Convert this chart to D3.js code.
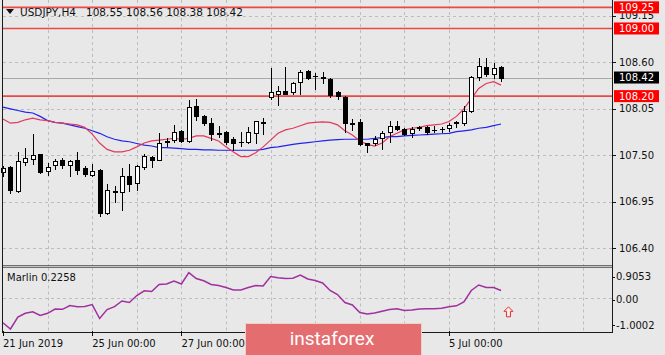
<!DOCTYPE html>
<html><head><meta charset="utf-8">
<script src="https://cdn.jsdelivr.net/npm/d3@7"></script>
<style>html,body{margin:0;padding:0;background:#e8e8e8;overflow:hidden}svg{display:block}text{font-family:"DejaVu Sans",sans-serif}</style>
</head><body><svg id="c" width="665" height="355"></svg>
<script>
// ---------- DATA ----------
const symbol = "USDJPY,H4";
const opens  = [107.30,107.36,107.08,107.42,107.46,107.51,107.31,107.38,107.44,107.39,
                107.44,107.35,107.27,107.33,106.82,107.08,107.07,107.25,107.17,107.36,
                107.48,107.45,107.66,107.68,107.79,107.67,108.08,107.96,107.88,107.76,
                107.78,107.69,107.66,107.66,107.76,107.89,108.19,108.23,108.26,108.25,
                108.37,108.50,108.44,108.43,108.40,108.25,108.19,107.88,107.89,107.64,
                107.64,107.70,107.77,107.85,107.81,107.76,107.825,107.83,107.80,107.81,
                107.82,107.885,107.88,108.02,108.43,108.54,108.46,108.55];
const highs  = [107.37,107.37,107.54,107.59,107.75,107.52,107.41,107.46,107.47,107.44,
                107.54,107.37,107.40,107.34,107.16,107.14,107.35,107.40,107.39,107.52,
                107.49,107.76,107.70,107.86,107.80,108.15,108.17,107.98,107.94,107.85,
                107.785,107.72,107.77,107.84,107.91,107.94,108.53,108.32,108.55,108.37,
                108.51,108.51,108.47,108.48,108.41,108.255,108.20,107.93,107.93,107.645,
                107.73,107.79,107.90,107.90,107.82,107.83,107.85,107.85,107.85,107.83,
                107.88,107.91,108.08,108.435,108.65,108.65,108.59,108.56];
const lows   = [107.25,107.05,107.07,107.39,107.40,107.29,107.27,107.34,107.35,107.25,
                107.28,107.26,107.25,106.78,106.81,106.95,106.85,107.08,107.09,107.34,
                107.36,107.44,107.61,107.66,107.66,107.66,107.92,107.86,107.68,107.72,
                107.63,107.56,107.61,107.64,107.64,107.75,108.17,108.09,108.22,108.23,
                108.23,108.40,108.29,108.35,108.19,108.17,107.78,107.80,107.62,107.54,
                107.62,107.58,107.66,107.80,107.74,107.72,107.80,107.75,107.78,107.77,
                107.79,107.83,107.86,108.01,108.39,108.44,108.41,108.38];
const closes = [107.35,107.09,107.43,107.47,107.50,107.30,107.36,107.43,107.38,107.43,
                107.33,107.28,107.31,106.82,107.09,107.07,107.25,107.16,107.37,107.49,
                107.44,107.65,107.665,107.77,107.67,108.07,107.96,107.88,107.75,107.755,
                107.66,107.64,107.655,107.77,107.90,107.885,108.25,108.26,108.23,108.36,
                108.49,108.41,108.435,108.41,108.21,108.20,107.88,107.875,107.63,107.62,
                107.69,107.76,107.85,107.81,107.75,107.81,107.83,107.78,107.795,107.815,
                107.86,107.89,108.02,108.43,108.56,108.46,108.53,108.42];
const maFast = [107.93,107.88,107.89,107.92,107.94,107.92,107.91,107.89,107.88,107.87,
                107.86,107.83,107.75,107.645,107.57,107.54,107.54,107.56,107.60,107.645,
                107.67,107.68,107.69,107.70,107.69,107.70,107.73,107.73,107.70,107.67,
                107.60,107.54,107.485,107.485,107.53,107.60,107.68,107.76,107.80,107.82,
                107.85,107.88,107.89,107.895,107.89,107.86,107.79,107.74,107.67,107.63,
                107.61,107.645,107.72,107.76,107.80,107.82,107.83,107.85,107.86,107.87,
                107.90,107.96,108.05,108.17,108.29,108.35,108.37,108.33];
const maSlow = [108.07,108.05,108.03,108.01,108.00,107.96,107.91,107.89,107.88,107.86,
                107.84,107.82,107.79,107.76,107.72,107.69,107.67,107.66,107.64,107.62,
                107.61,107.59,107.59,107.586,107.58,107.57,107.57,107.565,107.565,107.56,
                107.56,107.56,107.56,107.56,107.56,107.57,107.59,107.60,107.615,107.63,
                107.64,107.65,107.66,107.67,107.68,107.685,107.69,107.69,107.69,107.69,
                107.70,107.71,107.72,107.72,107.73,107.735,107.74,107.745,107.75,107.755,
                107.76,107.78,107.79,107.80,107.82,107.83,107.85,107.87];
const marlin = [-0.719,-0.904,-0.552,-0.444,-0.400,-0.508,-0.444,-0.317,-0.326,-0.215,
                -0.250,-0.244,-0.186,-0.596,-0.332,-0.250,-0.083,-0.127,0.078,0.216,
                0.196,0.401,0.416,0.504,0.416,0.747,0.577,0.512,0.401,0.372,
                0.313,0.240,0.240,0.313,0.372,0.357,0.635,0.597,0.577,0.583,
                0.680,0.562,0.518,0.445,0.225,0.108,-0.127,-0.200,-0.420,-0.464,
                -0.435,-0.385,-0.332,-0.312,-0.362,-0.347,-0.318,-0.312,-0.312,-0.294,
                -0.253,-0.224,-0.112,0.225,0.386,0.313,0.313,0.2258];
const priceTicks = [109.15, 108.60, 108.05, 107.50, 106.95, 106.40];
const levelLines = [109.25, 109.00, 108.20];
const marlinTicks = [0.9053, 0.00, -1.0002];
const marlinTickLabels = ["0.9053", "0.00", "-1.0002"];
const xTickBars = [0, 12, 24, 60];
const xTickLabels = ["21 Jun 2019", "25 Jun 00:00", "27 Jun 00:00", "5 Jul 00:00"];
const signalBar = 68, signalValue = -0.40;

// ---------- LAYOUT ----------
const svg = d3.select("#c");
const L = 3, R = 612;
const mainTop = 0, mainBottom = 265, subTop = 267.5, subBottom = 332.3;
const x = d3.scaleLinear().domain([0, 60]).range([3, 449]);
const y = d3.scaleLinear().domain([106.40, 108.60]).range([248.3, 62.3]);
const ys = d3.scaleLinear().domain([-1.0002, 0.9053]).range([332.3, 267.3]);
const snap = v => Math.round(v) + 0.5;

svg.append("rect").attr("width", 665).attr("height", 355).attr("fill", "#e8e8e8");

// grid
const grid = svg.append("g").attr("stroke", "#bdbdbd").attr("stroke-dasharray", "3,3").attr("stroke-width", 1);
const dayBars = d3.range(6, 90, 6).filter(b => x(b) < R - 2);
grid.selectAll(".vg").data(dayBars).join("line")
  .attr("x1", d => snap(x(d))).attr("x2", d => snap(x(d))).attr("y1", mainTop).attr("y2", mainBottom);
grid.selectAll(".vgs").data(dayBars).join("line")
  .attr("x1", d => snap(x(d))).attr("x2", d => snap(x(d))).attr("y1", subTop).attr("y2", subBottom);
grid.selectAll(".hg").data(priceTicks).join("line")
  .attr("x1", L).attr("x2", R).attr("y1", d => snap(y(d))).attr("y2", d => snap(y(d)));
grid.append("line").attr("x1", L).attr("x2", R).attr("y1", snap(ys(0))).attr("y2", snap(ys(0)));

// level lines
svg.selectAll(".lvl").data(levelLines).join("line")
  .attr("x1", L).attr("x2", R).attr("y1", d => y(d)).attr("y2", d => y(d))
  .attr("stroke", "#ec4848").attr("stroke-width", 1.6);

// bid line
const last = closes.length - 1;
svg.append("line").attr("x1", L).attr("x2", R)
  .attr("y1", snap(y(closes[last]))).attr("y2", snap(y(closes[last])))
  .attr("stroke", "#a9a9a9").attr("stroke-width", 1);

// moving averages
const lineP = d3.line().x((d, i) => x(i)).y(d => y(d));
svg.append("path").attr("d", lineP(maSlow)).attr("fill", "none").attr("stroke", "#2222ee").attr("stroke-width", 1.2);
svg.append("path").attr("d", lineP(maFast)).attr("fill", "none").attr("stroke", "#e2395c").attr("stroke-width", 1.2);

// candles
const cg = svg.append("g");
opens.forEach((o, i) => {
  const c = closes[i], cx = Math.round(x(i));
  cg.append("line").attr("x1", cx + 0.5).attr("x2", cx + 0.5)
    .attr("y1", Math.round(y(highs[i]))).attr("y2", Math.round(y(lows[i])) + 1)
    .attr("stroke", "#000").attr("stroke-width", 1);
  const yt = Math.round(y(Math.max(o, c))), yb = Math.round(y(Math.min(o, c)));
  if (yb - yt < 1) {
    cg.append("line").attr("x1", cx - 2).attr("x2", cx + 3).attr("y1", yt + 0.5).attr("y2", yt + 0.5)
      .attr("stroke", "#000").attr("stroke-width", 1);
  } else if (c >= o) {
    cg.append("rect").attr("x", cx - 1.5).attr("y", yt + 0.5).attr("width", 4).attr("height", Math.max(1, yb - yt))
      .attr("fill", "#fff").attr("stroke", "#000").attr("stroke-width", 1);
  } else {
    cg.append("rect").attr("x", cx - 2).attr("y", yt).attr("width", 5).attr("height", yb - yt + 1)
      .attr("fill", "#000");
  }
});

// marlin
const lineM = d3.line().x((d, i) => x(i)).y(d => ys(d));
svg.append("path").attr("d", lineM(marlin)).attr("fill", "none").attr("stroke", "#a0309e").attr("stroke-width", 1.5);
svg.append("path")
  .attr("transform", `translate(${x(signalBar)},${ys(signalValue)})`)
  .attr("d", "M0,-5 L4.5,-0.5 L2,-0.5 L2,5 L-2,5 L-2,-0.5 L-4.5,-0.5 Z")
  .attr("fill", "#fdeaea").attr("stroke", "#e53030").attr("stroke-width", 1);

// frame
const fr = svg.append("g").attr("stroke", "#1a1a1a").attr("stroke-width", 1);
fr.append("line").attr("x1", 2.5).attr("x2", 2.5).attr("y1", 0).attr("y2", 333);
fr.append("line").attr("x1", R + 0.5).attr("x2", R + 0.5).attr("y1", 0).attr("y2", 333);
fr.append("line").attr("x1", 2).attr("x2", R + 1).attr("y1", 332.5).attr("y2", 332.5);
svg.append("line").attr("x1", L).attr("x2", R).attr("y1", 265.5).attr("y2", 265.5).attr("stroke", "#707070");
svg.append("line").attr("x1", L).attr("x2", R).attr("y1", 266.5).attr("y2", 266.5).attr("stroke", "#c4c4c4");
svg.append("line").attr("x1", L).attr("x2", R).attr("y1", 267.5).attr("y2", 267.5).attr("stroke", "#707070");

// right price axis
const ax = svg.append("g").attr("font-size", 10).attr("fill", "#111");
priceTicks.forEach(v => {
  ax.append("line").attr("x1", R).attr("x2", R + 4).attr("y1", snap(y(v))).attr("y2", snap(y(v))).attr("stroke", "#111");
  ax.append("text").attr("x", 619).attr("y", y(v)).attr("dy", "0.36em").text(v.toFixed(2));
});
levelLines.forEach(v => {
  ax.append("rect").attr("x", 614).attr("y", y(v) - 6).attr("width", 45).attr("height", 12).attr("fill", "#ff0000");
  ax.append("text").attr("x", 619).attr("y", y(v)).attr("dy", "0.36em").attr("fill", "#fff").text(v.toFixed(2));
});
ax.append("rect").attr("x", 614).attr("y", y(closes[last]) - 6).attr("width", 45).attr("height", 12).attr("fill", "#000");
ax.append("text").attr("x", 619).attr("y", y(closes[last])).attr("dy", "0.36em").attr("fill", "#fff").text(closes[last].toFixed(2));

// marlin axis
const subOffsets = [9.4, 1.5, -7];
marlinTicks.forEach((v, i) => {
  const cy = ys(v) + subOffsets[i];
  ax.append("line").attr("x1", R).attr("x2", R + 3).attr("y1", snap(cy)).attr("y2", snap(cy)).attr("stroke", "#111");
  ax.append("text").attr("x", 616).attr("y", cy).attr("dy", "0.36em").text(marlinTickLabels[i]);
});

// x axis
xTickBars.forEach((b, i) => {
  ax.append("line").attr("x1", snap(x(b))).attr("x2", snap(x(b))).attr("y1", 331).attr("y2", 336).attr("stroke", "#111");
  ax.append("text").attr("x", x(b)).attr("y", 347).text(xTickLabels[i]);
});

// titles
svg.append("path").attr("d", "M6,9 L14,9 L10,14 Z").attr("fill", "#111");
svg.append("text").attr("x", 20).attr("y", 15.5).attr("font-size", 10.5).attr("fill", "#111").text(symbol);
svg.append("text").attr("x", 86).attr("y", 15.5).attr("font-size", 10.5).attr("fill", "#111")
  .style("white-space", "pre")
  .text([opens[last], highs[last], lows[last], closes[last]].map(v => v.toFixed(2)).join(" "));
svg.append("text").attr("x", 7).attr("y", 281).attr("font-size", 10).attr("fill", "#111")
  .text("Marlin " + marlin[last].toFixed(4));

// watermark
svg.append("rect").attr("x", 245.5).attr("y", 323.5).attr("width", 176).attr("height", 40)
  .attr("fill", "#e46d70").attr("stroke", "#f3cccc").attr("stroke-width", 1);
svg.append("text").attr("x", 332).attr("y", 345).attr("text-anchor", "middle")
  .attr("font-size", 19).attr("fill", "#fff")
  .style("font-family", "Roboto, sans-serif").text("instaforex");
</script></body></html>
